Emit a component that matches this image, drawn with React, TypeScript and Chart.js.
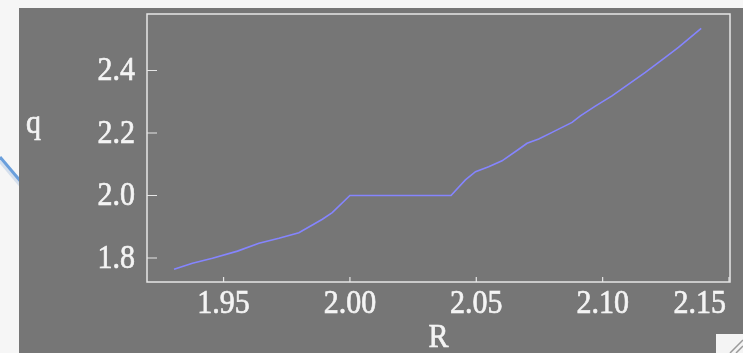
import React, { useEffect, useRef } from "react";
import { Chart, registerables } from "chart.js";

Chart.register(...registerables);

const rValues = [1.9304, 1.9377, 1.9456, 1.9555, 1.964, 1.9719, 1.9798, 1.9891, 1.993, 2.0, 2.04, 2.0457, 2.0497, 2.0549, 2.0602, 2.0668, 2.0701, 2.0747, 2.08, 2.0879, 2.0912, 2.0971, 2.1037, 2.1169, 2.1248, 2.13, 2.139];
const qValues = [1.764, 1.783, 1.799, 1.822, 1.847, 1.863, 1.881, 1.924, 1.945, 2.0, 2.0, 2.05, 2.076, 2.092, 2.111, 2.148, 2.167, 2.181, 2.202, 2.234, 2.255, 2.286, 2.319, 2.394, 2.442, 2.474, 2.535];
const xTicks = [1.95, 2.0, 2.05, 2.1, 2.15];
const xTickLabels = ["1.95", "2.00", "2.05", "2.10", "2.15"];
const yTicks = [1.8, 2.0, 2.2, 2.4];
const yTickLabels = ["1.8", "2.0", "2.2", "2.4"];
const xTitle = "R";
const yTitle = "q";

const FONT = "'Liberation Serif', 'Times New Roman', serif";
const TEXT = "#f4f4f4";
const FRAME = "#e6e6e6";

function drawText(ctx: any, s: string, x: number, baseline: number, align: string) {
  ctx.save();
  ctx.translate(x, baseline);
  ctx.scale(1, 1.1);
  ctx.textAlign = align;
  ctx.textBaseline = "alphabetic";
  ctx.fillText(s, 0, 0);
  ctx.strokeText(s, 0, 0);
  ctx.restore();
}

export default function App() {
  const ref = useRef<HTMLCanvasElement | null>(null);
  useEffect(() => {
    const canvas = ref.current;
    if (!canvas) return;
    const deco = {
      id: "deco",
      beforeDraw(chart: any) {
        const ctx = chart.ctx;
        const w = chart.width;
        const h = chart.height;
        ctx.save();
        ctx.fillStyle = "#f6f6f6";
        ctx.fillRect(0, 0, w, h);
        ctx.strokeStyle = "rgba(150,180,220,0.35)";
        ctx.lineWidth = 5;
        ctx.beginPath();
        ctx.moveTo(0, 160);
        ctx.lineTo(22, 186);
        ctx.stroke();
        ctx.strokeStyle = "#6a9fdc";
        ctx.lineWidth = 3;
        ctx.beginPath();
        ctx.moveTo(0, 157);
        ctx.lineTo(22, 183);
        ctx.stroke();
        ctx.fillStyle = "#767676";
        ctx.fillRect(19, 8, w - 19, h - 8);
        ctx.restore();
      },
      afterDraw(chart: any) {
        const ctx = chart.ctx;
        const a = chart.chartArea;
        const xs = chart.scales.x;
        const ys = chart.scales.y;
        ctx.save();
        ctx.strokeStyle = FRAME;
        ctx.lineWidth = 1.5;
        ctx.strokeRect(a.left, a.top, a.right - a.left, a.bottom - a.top);
        ctx.lineWidth = 1.2;
        ctx.beginPath();
        yTicks.forEach((v) => {
          const p = ys.getPixelForValue(v);
          ctx.moveTo(a.left, p);
          ctx.lineTo(a.left + 10, p);
        });
        xTicks.forEach((v) => {
          const p = xs.getPixelForValue(v);
          ctx.moveTo(p, a.bottom);
          ctx.lineTo(p, a.bottom - 5);
        });
        ctx.stroke();
        ctx.fillStyle = TEXT;
        ctx.strokeStyle = TEXT;
        ctx.lineWidth = 0.6;
        ctx.font = `30px ${FONT}`;
        yTicks.forEach((v, i) => {
          const p = ys.getPixelForValue(v);
          drawText(ctx, yTickLabels[i], a.left - 12, p + 9.5, "right");
        });
        xTicks.forEach((v, i) => {
          const p = xs.getPixelForValue(v);
          if (i === xTicks.length - 1) {
            drawText(ctx, xTickLabels[i], a.right - 4, 313, "right");
          } else {
            drawText(ctx, xTickLabels[i], p, 313, "center");
          }
        });
        drawText(ctx, xTitle, (a.left + a.right) / 2, 346.5, "center");
        drawText(ctx, yTitle, 26, 133, "left");
        // resize grip
        ctx.fillStyle = "#f4f4f4";
        ctx.fillRect(716, 334, 27, 19);
        ctx.strokeStyle = "#9a9a9a";
        ctx.lineWidth = 1.5;
        ctx.beginPath();
        ctx.moveTo(730, 353);
        ctx.lineTo(743, 340);
        ctx.moveTo(736, 353);
        ctx.lineTo(743, 346);
        ctx.stroke();
        ctx.restore();
      },
    };
    const chart = new Chart(canvas, {
      type: "line",
      data: {
        datasets: [
          {
            data: rValues.map((r, i) => ({ x: r, y: qValues[i] })),
            borderColor: "#8585ff",
            borderWidth: 1.6,
            pointRadius: 0,
            tension: 0,
            fill: false,
          },
        ],
      },
      options: {
        animation: false,
        responsive: true,
        maintainAspectRatio: false,
        layout: { padding: { left: 0, top: 14, right: 13, bottom: 0 } },
        plugins: { legend: { display: false }, tooltip: { enabled: false } },
        scales: {
          x: {
            type: "linear",
            min: 1.9197,
            max: 2.1504,
            grid: { display: false },
            border: { display: false },
            ticks: { display: false },
            afterBuildTicks: (s: any) => {
              s.ticks = xTicks.map((v) => ({ value: v }));
            },
            afterFit: (s: any) => {
              s.height = 71;
              s.paddingLeft = 0;
              s.paddingRight = 0;
            },
          },
          y: {
            type: "linear",
            min: 1.7232,
            max: 2.5808,
            grid: { display: false },
            border: { display: false },
            ticks: { display: false },
            afterBuildTicks: (s: any) => {
              s.ticks = yTicks.map((v) => ({ value: v }));
            },
            afterFit: (s: any) => {
              s.width = 147;
              s.paddingTop = 0;
              s.paddingBottom = 0;
            },
          },
        },
      },
      plugins: [deco],
    });
    return () => chart.destroy();
  }, []);
  return (
    <div style={{ position: "absolute", left: 0, top: 0, width: 743, height: 353 }}>
      <canvas ref={ref} />
    </div>
  );
}
